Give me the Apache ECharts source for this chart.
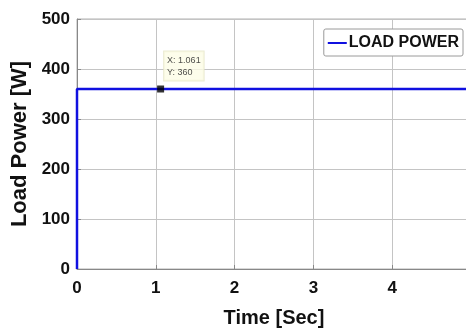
<!DOCTYPE html>
<html>
<head>
<meta charset="utf-8">
<script src="https://cdn.jsdelivr.net/npm/echarts@6/dist/echarts.min.js"></script>
<style>html,body{margin:0;padding:0;background:#fff;}#c{width:466px;height:333px;}</style>
</head>
<body>
<div id="c"></div>
<script>
const timeValues = [0, 0, 5];
const powerValues = [0, 360, 360];
const tipTime = [1.061];
const tipPower = [360];
const seriesName = 'LOAD POWER';
const xTicks = [0, 1, 2, 3, 4, 5];
const yTicks = [0, 100, 200, 300, 400, 500];

const chart = echarts.init(document.getElementById('c'));
const font = 'Liberation Sans, Arial, sans-serif';
chart.setOption({
  animation: false,
  backgroundColor: '#fff',
  grid: { left: 77, top: 19, bottom: 64, right: -5, outerBoundsMode: 'none', containLabel: false, show: true, borderColor: '#b0b0b0', borderWidth: 1 },
  legend: {
    data: [seriesName],
    right: 3, top: 29,
    orient: 'vertical',
    backgroundColor: '#fff',
    borderColor: '#9a9a9a', borderWidth: 1, borderRadius: 2,
    padding: [6, 4, 5, 4],
    itemWidth: 19, itemHeight: 2, itemGap: 0,
    icon: 'rect',
    textStyle: { fontFamily: font, fontWeight: 'bold', fontSize: 16, color: '#111', padding: [0, 0, 0, -3] }
  },
  xAxis: {
    type: 'value', min: xTicks[0], max: xTicks[xTicks.length - 1], interval: 1,
    name: 'Time [Sec]', nameLocation: 'middle', nameGap: 39,
    nameTextStyle: { fontFamily: font, fontWeight: 'bold', fontSize: 20, color: '#111' },
    axisLine: { lineStyle: { color: '#888' } },
    axisTick: { inside: true, length: 4, lineStyle: { color: '#888' } },
    axisLabel: { fontFamily: font, fontWeight: 'bold', fontSize: 17, color: '#111', margin: 11 },
    splitLine: { lineStyle: { color: '#c4c4c4' } }
  },
  yAxis: {
    type: 'value', min: yTicks[0], max: yTicks[yTicks.length - 1], interval: 100,
    name: 'Load Power [W]', nameLocation: 'middle', nameGap: 42,
    nameTextStyle: { fontFamily: font, fontWeight: 'bold', fontSize: 22, color: '#111' },
    axisLine: { show: true, lineStyle: { color: '#888' } },
    axisTick: { show: true, inside: true, length: 4, lineStyle: { color: '#888' } },
    axisLabel: { fontFamily: font, fontWeight: 'bold', fontSize: 17, color: '#111', margin: 7 },
    splitLine: { lineStyle: { color: '#c4c4c4' } }
  },
  series: [
    {
      name: seriesName, type: 'line', showSymbol: false, symbol: 'none',
      data: timeValues.map((t, i) => [t, powerValues[i]]),
      lineStyle: { color: '#1010e0', width: 2.5 },
      itemStyle: { color: '#1010e0' },
      z: 3
    },
    {
      name: 'tip', type: 'scatter',
      data: tipTime.map((t, i) => [t, tipPower[i]]),
      symbol: 'rect', symbolSize: 7,
      itemStyle: { color: '#000' },
      z: 5,
      label: {
        show: true, position: [7, -34],
        formatter: p => 'X: ' + p.value[0] + '\nY: ' + p.value[1],
        fontFamily: font, fontSize: 9, lineHeight: 12, color: '#222',
        backgroundColor: '#fdfde6', borderColor: '#e6e6c8', borderWidth: 1,
        padding: [3, 3, 2, 3]
      }
    }
  ]
});
</script>
</body>
</html>
